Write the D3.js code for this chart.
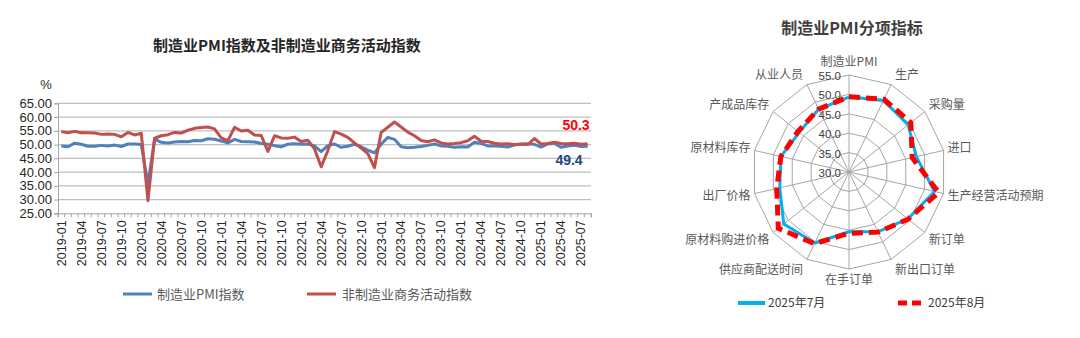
<!DOCTYPE html>
<html><head><meta charset="utf-8">
<script src="https://cdn.jsdelivr.net/npm/d3@7"></script>
<style>
body{margin:0;background:#fff;}
svg text{font-family:"Liberation Sans","Noto Sans CJK SC",sans-serif;}
.cjk{font-family:"Noto Sans CJK SC","Liberation Sans",sans-serif;}
</style></head>
<body><svg id="c" width="1080" height="338"></svg>
<script>
// ---------- data ----------
const years = ["2019","2020","2021","2022","2023","2024","2025"];
const monthNums = ["01","02","03","04","05","06","07","08","09","10","11","12"];
const months = [];
years.forEach(yy => monthNums.forEach(mm => { if (months.length < 80) months.push(yy + "-" + mm); }));

const pmi = [
  49.5,49.2,50.5,50.1,49.4,49.4,49.7,49.5,49.8,49.3,50.2,50.2,
  50.0,35.7,52.0,50.8,50.6,50.9,51.1,51.0,51.5,51.4,52.1,51.9,
  51.3,50.6,51.9,51.1,51.0,50.9,50.4,50.1,49.6,49.2,50.1,50.3,
  50.1,50.2,49.5,47.4,49.6,50.2,49.0,49.4,50.1,49.2,48.0,47.0,
  50.1,52.6,51.9,49.2,48.8,49.0,49.3,49.7,50.2,49.5,49.4,49.0,
  49.2,49.1,50.8,50.4,49.5,49.5,49.4,49.1,49.8,50.1,50.3,50.1,
  49.1,50.2,50.5,49.0,49.5,49.7,49.3,49.4
];
const nonMfg = [
  54.7,54.3,54.8,54.3,54.3,54.2,53.7,53.8,53.7,52.8,54.4,53.5,
  54.1,29.6,52.3,53.2,53.6,54.4,54.2,55.2,55.9,56.2,56.4,55.7,
  52.4,51.4,56.3,54.9,55.2,53.5,53.3,47.5,53.2,52.4,52.3,52.7,
  51.1,51.6,48.4,41.9,47.8,54.7,53.8,52.6,50.6,48.7,46.7,41.6,
  54.4,56.3,58.2,56.4,54.5,53.2,51.5,51.0,51.7,50.6,50.2,50.4,
  50.7,51.4,53.0,51.2,51.1,50.5,50.2,50.3,50.0,50.2,50.0,52.2,
  50.2,50.4,50.8,50.4,50.3,50.5,50.1,50.3
];
const yTicks = [25,30,35,40,45,50,55,60,65];

const radarCats = ["制造业PMI","生产","采购量","进口","生产经营活动预期","新订单","新出口订单","在手订单","供应商配送时间","原材料购进价格","出厂价格","原材料库存","产成品库存","从业人员"];
const jul2025 = [49.3,50.5,49.5,47.8,52.6,49.4,47.1,45.4,50.3,51.5,48.3,48.0,46.4,48.0];
const aug2025 = [49.4,50.8,50.4,46.7,53.7,49.5,47.2,45.8,50.5,53.3,49.1,48.0,46.8,48.0];
const radarTicks = [30,35,40,45,50,55];

// ---------- left chart ----------
const svg = d3.select("#c");
const L = {left:58, right:591, top:103.3, bottom:213.3};
const x = d3.scaleBand().domain(months).range([L.left, L.right]);
const y = d3.scaleLinear().domain([25,65]).range([L.bottom, L.top]);
const xc = m => x(m) + x.bandwidth()/2;

svg.append("text").attr("class","cjk").attr("x",287).attr("y",51).attr("text-anchor","middle")
  .attr("font-size",15).attr("font-weight","bold").attr("fill","#262626")
  .text("制造业PMI指数及非制造业商务活动指数");

// grid
svg.append("g").selectAll("line").data(yTicks.filter(v=>v>25)).join("line")
  .attr("x1",L.left).attr("x2",L.right).attr("y1",d=>y(d)).attr("y2",d=>y(d))
  .attr("stroke","#BFBFBF").attr("stroke-width",1.2);

// y axis
const ya = svg.append("g").attr("transform",`translate(${L.left},0)`)
  .call(d3.axisLeft(y).tickValues(yTicks).tickFormat(d3.format(".2f")).tickSize(4).tickPadding(2));
ya.select(".domain").attr("stroke","#A6A6A6");
ya.selectAll(".tick line").attr("stroke","#A6A6A6");
ya.selectAll("text").attr("font-size",13).attr("fill","#262626").attr("font-family","Liberation Sans");

svg.append("text").attr("x",46).attr("y",89).attr("text-anchor","middle")
  .attr("font-size",13).attr("fill","#262626").text("%");

// x axis ticks (all months)
const xa = svg.append("g").attr("transform",`translate(0,${L.bottom})`)
  .call(d3.axisBottom(x).tickSize(4).tickFormat(""));
xa.select(".domain").attr("stroke","#A6A6A6");
xa.selectAll(".tick").attr("transform",d=>`translate(${x(d)},0)`);
xa.selectAll(".tick line").attr("stroke","#A6A6A6");
svg.append("line").attr("x1",L.right).attr("x2",L.right).attr("y1",L.bottom).attr("y2",L.bottom+4).attr("stroke","#A6A6A6");

// x labels every 3 months
const xl = svg.append("g").attr("transform",`translate(0,${L.bottom})`)
  .call(d3.axisBottom(x).tickValues(months.filter((d,i)=>i%3===0)).tickSize(0).tickPadding(0));
xl.select(".domain").remove();
xl.selectAll("text").attr("font-size",12.5).attr("fill","#262626")
  .attr("transform","rotate(-90)").attr("text-anchor","end")
  .attr("x",-7).attr("y",0).attr("dy","0.35em");

// lines
const line = d3.line().x((d,i)=>xc(months[i])).y(d=>y(d));
svg.append("path").datum(pmi).attr("d",line).attr("fill","none")
  .attr("stroke","#4F81BD").attr("stroke-width",3).attr("stroke-linejoin","round");
svg.append("path").datum(nonMfg).attr("d",line).attr("fill","none")
  .attr("stroke","#C0504D").attr("stroke-width",3).attr("stroke-linejoin","round");

// end labels
svg.append("text").attr("x",576).attr("y",130).attr("text-anchor","middle")
  .attr("font-size",14).attr("font-weight","bold").attr("fill","#FF0000")
  .text(nonMfg[nonMfg.length-1].toFixed(1));
svg.append("text").attr("x",569).attr("y",165).attr("text-anchor","middle")
  .attr("font-size",14).attr("font-weight","bold").attr("fill","#1F497D")
  .text(pmi[pmi.length-1].toFixed(1));

// legend
const lg = svg.append("g");
lg.append("line").attr("x1",123).attr("x2",152).attr("y1",294).attr("y2",294).attr("stroke","#4F81BD").attr("stroke-width",3);
lg.append("text").attr("class","cjk").attr("x",157).attr("y",299).attr("font-size",13).attr("fill","#595959").text("制造业PMI指数");
lg.append("line").attr("x1",307).attr("x2",336).attr("y1",294).attr("y2",294).attr("stroke","#C0504D").attr("stroke-width",3);
lg.append("text").attr("class","cjk").attr("x",342).attr("y",299).attr("font-size",13).attr("fill","#595959").text("非制造业商务活动指数");

// ---------- radar ----------
const cx = 849, cy = 172;
const r = d3.scaleLinear().domain([30,55]).range([0,97]);
const n = radarCats.length;
const ang = i => i * 2 * Math.PI / n;
const pt = (i,v) => [cx + Math.sin(ang(i))*r(v), cy - Math.cos(ang(i))*r(v)];

svg.append("text").attr("class","cjk").attr("x",852).attr("y",34).attr("text-anchor","middle")
  .attr("font-size",16).attr("font-weight","bold").attr("fill","#404040").text("制造业PMI分项指标");

const rg = svg.append("g");
radarTicks.filter(v=>v>30).forEach(v=>{
  rg.append("polygon").attr("points", d3.range(n).map(i=>pt(i,v).join(",")).join(" "))
    .attr("fill","none").attr("stroke","#A6A6A6").attr("stroke-width",1);
});
d3.range(n).forEach(i=>{
  const p = pt(i,55);
  rg.append("line").attr("x1",cx).attr("y1",cy).attr("x2",p[0]).attr("y2",p[1])
    .attr("stroke","#A6A6A6").attr("stroke-width",1);
});

// category labels
d3.range(n).forEach(i=>{
  const s = Math.sin(ang(i)), c = -Math.cos(ang(i));
  const p = pt(i,55);
  let anchor = Math.abs(s) < 0.1 ? "middle" : (s > 0 ? "start" : "end");
  let tx, ty;
  if (anchor === "middle") { tx = p[0]; ty = p[1] + (c < 0 ? -13 : 11); }
  else { tx = p[0] + (s>0?4:-4); ty = p[1] + c*11; }
  svg.append("text").attr("class","cjk").attr("x",tx).attr("y",ty).attr("dy","0.35em")
    .attr("text-anchor",anchor).attr("font-size",12).attr("fill","#595959").text(radarCats[i]);
});

const radial = d3.lineRadial().angle((d,i)=>ang(i)).radius(d=>r(d)).curve(d3.curveLinearClosed);
svg.append("path").datum(jul2025).attr("d",radial).attr("transform",`translate(${cx},${cy})`)
  .attr("fill","none").attr("stroke","#00B0F0").attr("stroke-width",3).attr("stroke-linejoin","round");
svg.append("path").datum(aug2025).attr("d",radial).attr("transform",`translate(${cx},${cy})`)
  .attr("fill","none").attr("stroke","#FF0000").attr("stroke-width",5).attr("stroke-dasharray","11,6");

// radar tick labels
radarTicks.forEach(v=>{
  svg.append("text").attr("x",841).attr("y",cy - r(v) + 1).attr("dy","0.35em").attr("text-anchor","end")
    .attr("font-size",11.5).attr("fill","#404040").text(v.toFixed(1));
});

// radar legend
svg.append("line").attr("x1",738).attr("x2",765).attr("y1",303).attr("y2",303).attr("stroke","#00B0F0").attr("stroke-width",4);
svg.append("text").attr("class","cjk").attr("x",768).attr("y",307).attr("font-size",12).attr("fill","#404040").text("2025年7月");
svg.append("line").attr("x1",898).attr("x2",926).attr("y1",303).attr("y2",303).attr("stroke","#FF0000").attr("stroke-width",5).attr("stroke-dasharray","9,5");
svg.append("text").attr("class","cjk").attr("x",928).attr("y",307).attr("font-size",12).attr("fill","#404040").text("2025年8月");
</script></body></html>
